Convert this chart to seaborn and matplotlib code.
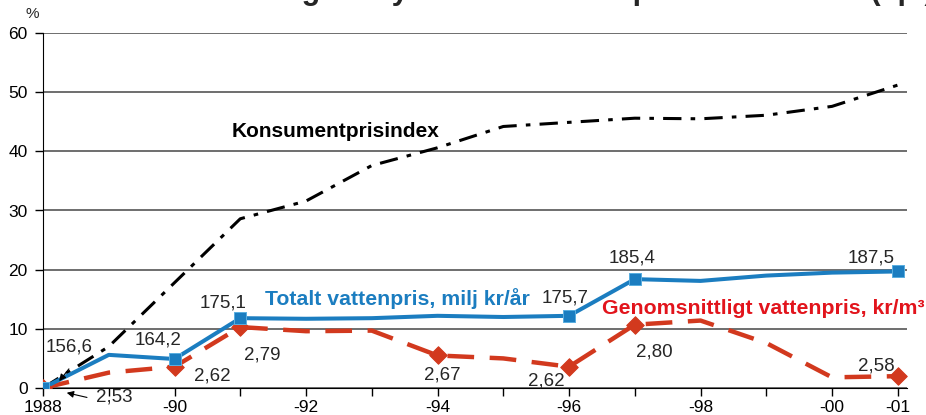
import numpy as np
import pandas as pd
import matplotlib.pyplot as plt
import seaborn as sns

years = list(range(1988, 2002))
kpi = [0, 7.0, 17.8, 28.6, 31.6, 37.6, 40.6, 44.2, 44.9, 45.6, 45.5, 46.1, 47.6, 51.2]
totalt = [0, 5.6, 4.9, 11.8, 11.7, 11.8, 12.2, 12.0, 12.2, 18.4, 18.1, 19.0, 19.5, 19.7]
snitt = [0, 2.6, 3.6, 10.3, 9.6, 9.7, 5.5, 5.0, 3.6, 10.7, 11.4, 7.6, 1.8, 2.0]

tot_marker_years = [1988, 1990, 1991, 1996, 1997, 2001]
snitt_marker_years = [1988, 1990, 1991, 1994, 1996, 1997, 2001]

tot_labels = ["156,6", "164,2", "175,1", "175,7", "185,4", "187,5"]
snitt_labels = ["2,53", "2,62", "2,79", "2,67", "2,62", "2,80", "2,58"]

xtick_years = [1988, 1990, 1992, 1994, 1996, 1998, 2000, 2001]
xtick_labels = ["1988", "-90", "-92", "-94", "-96", "-98", "-00", "-01"]

df = pd.DataFrame({"year": years, "kpi": kpi, "totalt": totalt, "snitt": snitt})

sns.set_style("white")
plt.rcParams['font.family'] = ['Liberation Sans', 'DejaVu Sans']

blue = "#1b7dc0"
red = "#d2391e"
red_txt = "#e2141c"

fig = plt.figure(figsize=(9.26, 4.15), dpi=100)
ax = fig.add_axes([43 / 926, (415 - 388) / 415, (907 - 43) / 926, (388 - 33) / 415])

sns.lineplot(data=df, x="year", y="kpi", ax=ax, color="black", lw=2.2,
             dashes=False, linestyle=(0, (6, 3, 1.5, 3)))
sns.lineplot(data=df, x="year", y="snitt", ax=ax, color=red, lw=3.2)
ax.lines[-1].set_dashes((6, 3.5))
sns.lineplot(data=df, x="year", y="totalt", ax=ax, color=blue, lw=2.9)

tm = df[df.year.isin(tot_marker_years)]
sm = df[df.year.isin(snitt_marker_years)]
sns.scatterplot(data=sm, x="year", y="snitt", ax=ax, marker="D", s=80, color=red,
                edgecolor=red, zorder=5)
sns.scatterplot(data=tm, x="year", y="totalt", ax=ax, marker="s", s=80, color=blue,
                edgecolor="#5aaee0", zorder=6)

ax.set_xlim(1988, 2001.14)
ax.set_ylim(0, 60)
ax.set_yticks(range(0, 61, 10))
ax.set_xticks(xtick_years)
ax.set_xticklabels(xtick_labels)
ax.set_xticks(years, minor=True)
ax.set_xlabel("")
ax.set_ylabel("")
ax.yaxis.grid(True, color="#555555", lw=1.2)
ax.set_axisbelow(True)
for s in ["top", "right"]:
    ax.spines[s].set_visible(False)
ax.spines["left"].set_color("black")
ax.spines["bottom"].set_color("black")
ax.tick_params(axis="both", which="both", direction="out", length=6, width=1, colors="black",
               labelsize=12.5, bottom=True, left=True)
ax.tick_params(axis="x", pad=2.5)
ax.tick_params(axis="y", pad=5)

# label positions (data coords)
fs = 13.5
tot_pos = [(1988.40, 6.9), (1989.75, 8.1), (1990.74, 14.4), (1995.94, 15.2), (1996.96, 22.0), (2000.60, 22.0)]
for t, (xx, yy) in zip(tot_labels, tot_pos):
    ax.text(xx, yy, t, fontsize=fs, ha="center", va="center")
snitt_pos = [(1989.08, -1.5), (1990.57, 2.0), (1991.33, 5.6), (1994.07, 2.2),
             (1995.66, 1.2), (1997.30, 6.1), (2000.68, 3.7)]
for t, (xx, yy) in zip(snitt_labels, snitt_pos):
    ax.text(xx, yy, t, fontsize=fs, ha="center", va="center", clip_on=False)

ax.annotate("", xy=(1988.22, 0.8), xytext=(1988.42, 3.6),
            arrowprops=dict(arrowstyle="-|>", color="black", lw=0.8, mutation_scale=10))
ax.annotate("", xy=(1988.32, -0.7), xytext=(1988.71, -1.7), annotation_clip=False,
            arrowprops=dict(arrowstyle="-|>", color="black", lw=0.8, mutation_scale=10))

ax.text(1990.87, 43.4, "Konsumentprisindex", fontsize=15, fontweight="bold", color="black", va="center")
ax.text(1991.38, 15.2, "Totalt vattenpris, milj kr/år", fontsize=15.3, fontweight="bold", color=blue, va="center")
ax.text(1996.50, 13.5, "Genomsnittligt vattenpris, kr/m³", fontsize=15.3, fontweight="bold", color=red_txt, va="center")

fig.text(32 / 926, 1 - 14 / 415, "%", fontsize=11, ha="center", va="center")
fig.text(935 / 926, 1 + 1 / 415, "Procentuell förändring av Sydvattens vattenpris sedan 1988 (kpi)",
         fontsize=22, fontweight="bold", ha="right", va="baseline")

fig.savefig("out.png", dpi=100)
